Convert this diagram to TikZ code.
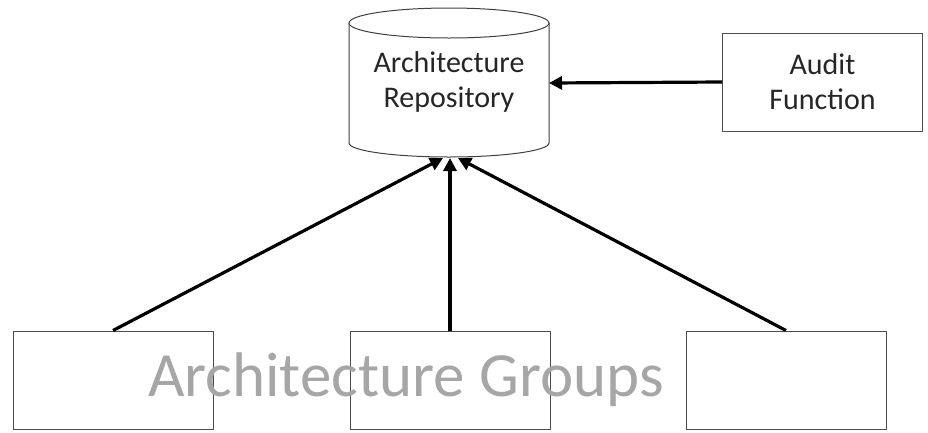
\documentclass[tikz,border=0pt]{standalone}
\usepackage{fontspec}
\setmainfont{Carlito}
\usetikzlibrary{arrows.meta}
\tikzset{
  box/.style={draw=black!70, line width=1pt, fill=white, minimum width=200pt, minimum height=98pt, inner sep=0pt},
  conn/.style={line width=3.2pt, -{Triangle[length=13pt,width=13pt]}},
  lbl/.style={font=\fontsize{30}{35}\selectfont, align=center, text=black!85},
}
\begin{document}
\begin{tikzpicture}[x=1pt,y=-1pt]
\useasboundingbox (0,0) rectangle (928,432);
% cylinder
\begin{scope}[draw=black!75, line width=1pt]
\draw[fill=white] (349,23) -- (349,143) arc[start angle=180,end angle=360,x radius=100,y radius=-14] -- (549,23);
\draw[fill=white] (449,23) ellipse[x radius=100, y radius=15];
\end{scope}
\node[lbl] (repo) at (449,82) {Architecture\\Repository};
\coordinate (repoR) at (549,83);
\coordinate (repoB1) at (443,158);
\coordinate (repoB2) at (450,158);
\coordinate (repoB3) at (458,158);
\node[box] (audit) at (822.5,82) {};
\node[lbl] at (audit) {Audit\\Function};
\node[box] (g1) at (113,380) {};
\node[box] (g2) at (450,380) {};
\node[box] (g3) at (786,380) {};
\node[font=\fontsize{63}{70}\selectfont, text=black!35] (groups) at (406,380) {Architecture Groups};
\draw[conn] (audit.west) -- (repoR);
\draw[conn] (g1.north) -- (repoB1);
\draw[conn] (g2.north) -- (repoB2);
\draw[conn] (g3.north) -- (repoB3);
\end{tikzpicture}
\end{document}
